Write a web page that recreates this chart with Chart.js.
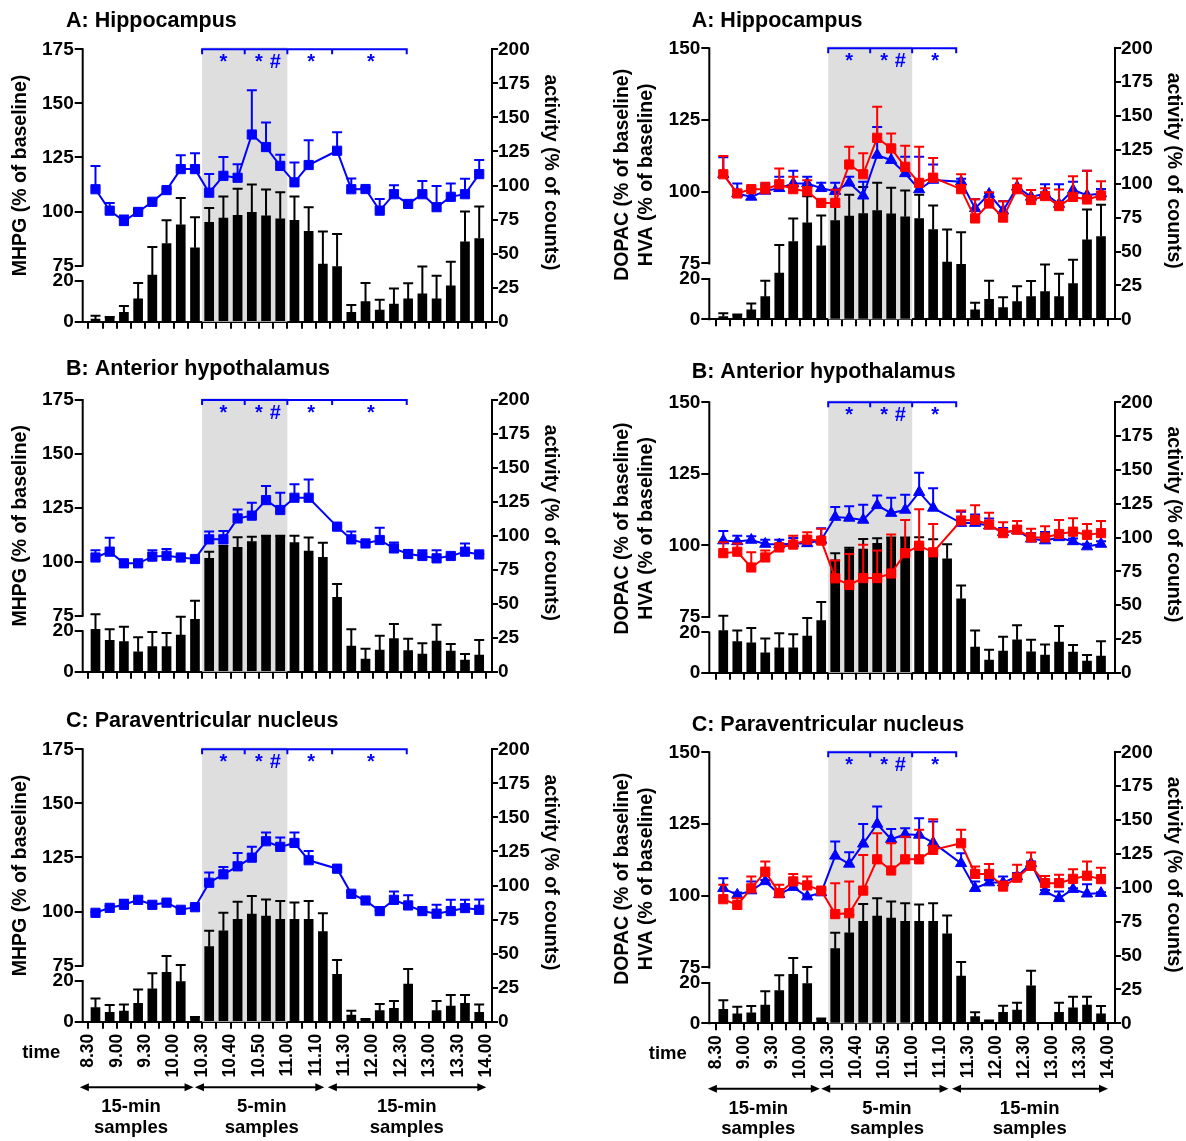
<!DOCTYPE html>
<html>
<head>
<meta charset="utf-8">
<script src="https://cdn.jsdelivr.net/npm/chart.js@4.4.0/dist/chart.umd.min.js"></script>
<style>
  html, body { margin: 0; padding: 0; background: #fff; }
  #wrap { position: relative; width: 1186px; height: 1141px; }
  #wrap canvas { position: absolute; left: 0; top: 0; }
</style>
</head>
<body>
<div id="wrap">
  <canvas id="pAL" width="1186" height="1141"></canvas>
  <canvas id="pAR" width="1186" height="1141"></canvas>
  <canvas id="pBL" width="1186" height="1141"></canvas>
  <canvas id="pBR" width="1186" height="1141"></canvas>
  <canvas id="pCL" width="1186" height="1141"></canvas>
  <canvas id="pCR" width="1186" height="1141"></canvas>
</div>
<script>
// x axis: 28 samples, label every second boundary
const timeLabels = ['8.30', '9.00', '9.30', '10.00', '10.30', '10.40', '10.50', '11.00',
  '11.10', '11.30', '12.00', '12.30', '13.00', '13.30', '14.00'];

// A: Hippocampus
const activityA = [2.0, 2.9, 6.9, 16.7, 34.2, 57.4, 71.2, 54.3, 72.9, 76.1, 78.1, 80.3, 77.8, 75.6,
  74.4, 66.3, 42.3, 40.5, 6.9, 14.7, 8.6, 13, 16.7, 20.4, 16.7, 26.3, 58.7, 61.1];
const activityAErr = [2.4, 0.6, 4.7, 11.8, 20.6, 17, 19.7, 22.3, 10.6, 15.9, 19.6, 20.4, 19.2, 19.4,
  17.6, 17.7, 24, 23.8, 5.4, 13.8, 7.6, 11.3, 11.6, 20.1, 17, 17.7, 22.3, 23.4];
const mhpgA = [110.3, 100.4, 95.6, 99.8, 104.5, 109.9, 119.6, 119.6, 108.7, 116.5, 115.6, 135.6, 129.8, 121.1,
  113.5, 121.5, null, 128.1, 110.3, 110.4, 100.4, 108, 103.5, 108, 102, 106.8, 108, 117.3];
const mhpgAErr = [10.8, 3.5, 2.5, 0.7, 1, 0.6, 6.4, 7.3, 8.6, 8.7, 6.3, 20.5, 11.4, 5.1,
  9.2, 11.5, null, 8.5, 5, 0.6, 5.4, 4.1, 1.5, 6.1, 9.8, 6.2, 7.2, 6.5];
const dopacA = [106.1, 99.4, 98.2, 100.3, 101.2, 102.9, 102.9, 101.2, 100.2, 103.1, 98.6, 112.8, 111, 106.4,
  100.8, 104.1, null, 103.5, 94.2, 99.2, 93.4, 101.7, 98.2, 99.4, 95.7, 100.6, 98.8, 99.4];
const dopacAErr = [5.9, 3.5, 2.7, 2.3, 4, 4.4, 2.3, 1.9, 2.9, 2.1, 4.9, 9.8, 4, 5.8,
  11.4, 5.4, null, 1, 3.2, 0.4, 3.3, 0.3, 2.4, 3.2, 6.9, 2.9, 8.5, 1.6];
const hvaA = [106.1, 99.4, 100.9, 100.9, 102.6, 100.9, 100.2, 96.1, 96.1, 109.5, 106.1, 118.8, 115.1, 108.7,
  103.1, 104.9, null, 100.9, 90.7, 95.9, 91, 100.9, 97.1, 98.5, 95, 98.2, 97.3, 98.7];
const hvaAErr = [6.4, 1.1, 0.6, 2.2, 5.5, 4.3, 3.8, 0.4, 4.6, 6.2, 7.3, 10.8, 5.2, 7.3,
  12.6, 6.9, null, 5.2, 6.7, 3.9, 5.7, 3.7, 3.5, 2.7, 5.8, 7.2, 10, 5];

// B: Anterior hypothalamus
const activityB = [31.2, 23.1, 22.1, 14.7, 18.4, 18.4, 27, 38.5, 83.4, 91.5, 91.5, 95.7, 99.6, 99.9,
  95, 88.8, 84.2, 54.7, 18.9, 9.3, 16, 24.3, 15.5, 13, 22.6, 15.2, 8.6, 12.3];
const activityBErr = [11, 8.1, 11, 10.6, 10.8, 10.1, 13.5, 13.8, 4.9, 1, 7.4, 3.7, 0.4, 0.1,
  5.1, 9.9, 10.8, 9.8, 12.3, 7.6, 10.5, 10.8, 8.8, 7.9, 12, 5.2, 4.4, 11];
const mhpgB = [102, 104.7, 99.3, 99.3, 102.4, 102.8, 102, 101.3, 110.4, 110.4, 120.1, 121.4, 128.6, 124,
  129.7, 129.7, null, 116.3, 110.4, 108.5, 110.1, 106.2, 103.6, 102.7, 101.6, 102.7, 104.7, 103.4];
const mhpgBErr = [3.4, 6.5, 0.2, 0.2, 3, 3.1, 0.5, 0.2, 3.6, 3.9, 4.2, 6, 6.5, 8,
  6.3, 8.5, null, 0.2, 3.6, 0.5, 5.7, 2.8, 1.8, 2.7, 3.8, 0.3, 3.8, 0.1];
const dopacB = [101.7, 101.4, 101.9, 100.5, 100.3, 100.7, 100.7, 101.9, 109.9, 109.6, 108.9, 114, 111.3, 112.4,
  118.6, 113.1, null, 107.8, 107.8, 106.9, 104.6, 105.2, 102.3, 101.7, 102.8, 101.4, 99.6, 100.5];
const dopacBErr = [3.3, 2, 1.3, 1.5, 1.7, 1.9, 1.3, 4.1, 3.5, 4.1, 5.3, 3.4, 5.4, 5.3,
  6.8, 6.9, null, 4, 3, 2.5, 1.5, 1.5, 2, 3, 2, 1, 1, 1];
const hvaB = [97.3, 97.8, 92.3, 95.8, 99.3, 100.3, 102, 101.7, 88.5, 86.2, 88.6, 88.6, 90.2, 97.3,
  99.9, 97.6, null, 108.7, 108.9, 107.3, 104.3, 105.5, 102.8, 102.8, 104, 104.8, 103.7, 104.3];
const hvaBErr = [3.8, 2.9, 5.3, 2.4, 1.4, 3.1, 2.6, 4.1, 6.2, 10.8, 11.6, 9.6, 13.6, 11.6,
  12.7, 9.9, null, 3.5, 5.1, 4.1, 3.8, 3, 3, 3.9, 4.9, 4.7, 3.8, 4.2];

// C: Paraventricular nucleus
const activityC = [10.3, 6.9, 7.8, 13.5, 24.2, 36.2, 29.4, 3.2, 55.1, 66.8, 75.2, 79.1, 77.6, 75.2,
  75.2, 75.2, 66.1, 34.8, 4.9, 1.7, 8.1, 9.8, 27.7, 0, 8.1, 11.5, 13.5, 6.9];
const activityCErr = [6.8, 5.3, 4.9, 10.2, 11.3, 12, 12.2, 0.3, 11.7, 13.2, 12.9, 13.2, 12.2, 13.4,
  12.4, 13.4, 13.5, 10.5, 3.2, 0.3, 4.9, 5.4, 11, 0, 7.1, 8.1, 6.1, 5.8];
const mhpgC = [99.4, 101.7, 103.1, 105.4, 103.1, 104.1, 100.8, 102, 113.3, 117.2, 120.9, 124.9, 132.5, 129.9,
  131.7, 123.7, null, 119.8, 108.2, 105.1, 100.2, 105.4, 102.8, 100.2, 99, 100.2, 101.6, 100.8];
const mhpgCErr = [0.3, 0.8, 2.3, 1.3, 0.5, 1, 0.5, 0.8, 4.7, 3.4, 6.2, 5, 4, 4.3,
  4.8, 4.3, null, 0.5, 0.8, 0.8, 0.3, 3.9, 4.7, 0.3, 4.1, 5.2, 3.8, 4.8];
const dopacC = [102.6, 100.3, 101.8, 105, 100.5, 103, 99.7, 101.1, 113.9, 111.1, 118.1, 125, 119.7, 121.4,
  121.2, 118.5, null, 111.3, 102.6, 104.6, 104.6, 106.7, 111.3, 101.5, 99.1, 102.3, 100.7, 100.9];
const dopacCErr = [3.5, 0.8, 3.2, 0.5, 0.3, 1.6, 0.3, 1.5, 5, 4.1, 6.9, 6.1, 3.6, 2.1,
  5.8, 7.4, null, 3.5, 2.4, 0.9, 2.1, 1.2, 0.6, 0.5, 2.4, 0.3, 3.3, 0.3];
const hvaC = [98.8, 96.8, 102.6, 108.4, 100.9, 105, 103.6, 101.8, 93.6, 93.9, 101.8, 112.7, 108.8, 112.7,
  112.7, 116, null, 118.3, 107.6, 107.6, 103.2, 106.3, 110.4, 104.4, 104.4, 105.9, 107, 105.8];
const hvaCErr = [5, 2.3, 4.1, 3.5, 2.9, 2.6, 3.1, 0.2, 10.8, 11.1, 12.4, 9.1, 9.5, 7.9,
  10.3, 10.7, null, 4.7, 2.6, 3.5, 1.8, 4.5, 4.7, 2.5, 2.9, 3.3, 4.9, 4];

const W = 1186, H = 1141;
const FONT = '"Liberation Sans", Arial, Helvetica, sans-serif';
const BLUE = '#0000ff', RED = '#ff0000';
const FRAC75 = 0.794, FRAC20 = 0.851;   // where the axis break sits (fraction of plot height from top)

const leftMarks = [{x: 9.5, t: '*'}, {x: 12, t: '*'}, {x: 13.15, t: '#'}, {x: 15.67, t: '*'}, {x: 19.87, t: '*'}];
const rightMarks = [{x: 9.5, t: '*'}, {x: 12, t: '*'}, {x: 13.15, t: '#'}, {x: 15.65, t: '*'}];

const panels = [
  {id: 'pAL', col: 'L', title: 'A: Hippocampus', x0: 82.7, x1: 492, y0: 49.3, y1: 321.7, titleY: 26.5, last: false,
    act: activityA, actErr: activityAErr, lines: [{d: mhpgA, e: mhpgAErr, c: BLUE, s: 'rect'}]},
  {id: 'pAR', col: 'R', title: 'A: Hippocampus', x0: 709.3, x1: 1115, y0: 48.3, y1: 319.3, titleY: 26.5, last: false,
    act: activityA, actErr: activityAErr, lines: [{d: dopacA, e: dopacAErr, c: BLUE, s: 'triangle'}, {d: hvaA, e: hvaAErr, c: RED, s: 'rect'}]},
  {id: 'pBL', col: 'L', title: 'B: Anterior hypothalamus', x0: 82.7, x1: 492, y0: 400, y1: 671.7, titleY: 375, last: false,
    act: activityB, actErr: activityBErr, lines: [{d: mhpgB, e: mhpgBErr, c: BLUE, s: 'rect'}]},
  {id: 'pBR', col: 'R', title: 'B: Anterior hypothalamus', x0: 709.3, x1: 1115, y0: 402.3, y1: 672.7, titleY: 378, last: false,
    act: activityB, actErr: activityBErr, lines: [{d: dopacB, e: dopacBErr, c: BLUE, s: 'triangle'}, {d: hvaB, e: hvaBErr, c: RED, s: 'rect'}]},
  {id: 'pCL', col: 'L', title: 'C: Paraventricular nucleus', x0: 82.7, x1: 492, y0: 749.3, y1: 1021.7, titleY: 726.5, last: true,
    act: activityC, actErr: activityCErr, lines: [{d: mhpgC, e: mhpgCErr, c: BLUE, s: 'rect'}]},
  {id: 'pCR', col: 'R', title: 'C: Paraventricular nucleus', x0: 709.3, x1: 1115, y0: 752.3, y1: 1023.3, titleY: 730.5, last: true,
    act: activityC, actErr: activityCErr, lines: [{d: dopacC, e: dopacCErr, c: BLUE, s: 'triangle'}, {d: hvaC, e: hvaCErr, c: RED, s: 'rect'}]}
];

const pts = arr => arr.map((v, i) => ({x: i + 0.5, y: v}));

// one-sided (upper) error bars
function drawErrors(chart, meta, ds) {
  const sc = chart.scales[meta.yAxisID];
  const ctx = chart.ctx;
  ctx.save();
  ctx.strokeStyle = ds.errColor;
  ctx.lineWidth = 2;
  meta.data.forEach((el, i) => {
    const v = ds.data[i].y, e = ds.errors[i];
    if (v == null || !e) return;
    const yt = sc.getPixelForValue(v + e);
    ctx.beginPath();
    ctx.moveTo(el.x, el.y);
    ctx.lineTo(el.x, yt);
    ctx.moveTo(el.x - 5, yt);
    ctx.lineTo(el.x + 5, yt);
    ctx.stroke();
  });
  ctx.restore();
}

const errorBars = {
  id: 'errorBars',
  beforeDatasetDraw(chart, args) {
    const ds = chart.data.datasets[args.index];
    if (ds.type === 'line') drawErrors(chart, args.meta, ds);
  },
  afterDatasetDraw(chart, args) {
    const ds = chart.data.datasets[args.index];
    if (ds.type !== 'line') drawErrors(chart, args.meta, ds);
  }
};

function vText(ctx, text, x, y, angle) {
  ctx.save();
  ctx.translate(x, y);
  ctx.rotate(angle);
  ctx.fillText(text, 0, 0);
  ctx.restore();
}

function arrow(ctx, xa, xb, y) {
  ctx.beginPath();
  ctx.moveTo(xa + 6, y);
  ctx.lineTo(xb - 6, y);
  ctx.stroke();
  ctx.beginPath();
  ctx.moveTo(xa, y); ctx.lineTo(xa + 9, y - 4); ctx.lineTo(xa + 9, y + 4); ctx.closePath();
  ctx.moveTo(xb, y); ctx.lineTo(xb - 9, y - 4); ctx.lineTo(xb - 9, y + 4); ctx.closePath();
  ctx.fill();
}

function makeDecor(p) {
  const left = p.col === 'L';
  return {
    id: 'decor',
    beforeDatasetsDraw(chart) {
      const {ctx, chartArea: a, scales: {x}} = chart;
      const xa = x.getPixelForValue(8), xb = x.getPixelForValue(14);
      ctx.save();
      ctx.fillStyle = '#dedede';
      ctx.fillRect(xa, a.top - 2, xb - xa, a.bottom - a.top + 2);
      ctx.restore();
    },
    afterDraw(chart) {
      const {ctx, chartArea: a, scales: {x, y}} = chart;
      const mid = (a.top + a.bottom) / 2;
      ctx.save();

      // broken left axis
      ctx.strokeStyle = '#000';
      ctx.lineWidth = 2;
      ctx.beginPath();
      ctx.moveTo(a.left, a.top - 1);
      ctx.lineTo(a.left, y.getPixelForValue(75) + 1);
      ctx.moveTo(a.left, y.getPixelForValue(y.ticks[1].value) - 1);
      ctx.lineTo(a.left, a.bottom + 1);
      ctx.stroke();

      // significance brackets
      const stops = left ? [8, 11, 14, 17.15, 22.4] : [8, 11, 14, 17.15];
      const bx = stops.map(v => x.getPixelForValue(v));
      ctx.strokeStyle = BLUE;
      ctx.beginPath();
      ctx.moveTo(bx[0] - 1, a.top);
      ctx.lineTo(bx[bx.length - 1] + 1, a.top);
      bx.forEach(px => { ctx.moveTo(px, a.top); ctx.lineTo(px, a.top + 5); });
      ctx.stroke();
      ctx.fillStyle = BLUE;
      ctx.font = 'bold 20px ' + FONT;
      ctx.textAlign = 'center';
      ctx.textBaseline = 'alphabetic';
      (left ? leftMarks : rightMarks).forEach(m => ctx.fillText(m.t, x.getPixelForValue(m.x), a.top + 18.5));

      // panel title
      ctx.fillStyle = '#000';
      ctx.textAlign = 'left';
      ctx.font = 'bold 21.5px ' + FONT;
      ctx.fillText(p.title, left ? 66 : 691.7, p.titleY);

      // axis titles
      ctx.font = 'bold 19.5px ' + FONT;
      ctx.textAlign = 'center';
      ctx.textBaseline = 'middle';
      if (left) {
        vText(ctx, 'MHPG (% of baseline)', a.left - 61.7, mid - 10, -Math.PI / 2);
      } else {
        vText(ctx, 'DOPAC (% of baseline)', a.left - 86.3, mid - 9, -Math.PI / 2);
        vText(ctx, 'HVA (% of baseline)', a.left - 62.3, mid - 9, -Math.PI / 2);
      }
      vText(ctx, 'activity (% of counts)', a.right + 58, mid - 13, Math.PI / 2);

      // time axis annotation below the bottom row
      if (p.last) {
        ctx.font = 'bold 18.5px ' + FONT;
        ctx.fillText('time', a.left - 41.5, a.bottom + 31);
        ctx.strokeStyle = '#000';
        ctx.lineWidth = 2;
        const ya = a.bottom + 65.5;
        const spans = [[-0.6, 7.4, '15-min', 3.0], [7.5, 16.6, '5-min', 12.2], [16.85, 28.0, '15-min', 22.4]];
        spans.forEach(s => {
          arrow(ctx, x.getPixelForValue(s[0]), x.getPixelForValue(s[1]), ya);
          const cx = x.getPixelForValue(s[3]);
          ctx.fillText(s[2], cx, a.bottom + 85.5);
          ctx.fillText('samples', cx, a.bottom + 106);
        });
      }
      ctx.restore();
    }
  };
}

function makeChart(p) {
  const left = p.col === 'L';
  const yTop = left ? 175 : 150;
  const range = (yTop - 75) / FRAC75;
  const yMin = yTop - range;
  const y20 = yTop - FRAC20 * range;
  const leftTicks = [yMin, y20];
  for (let v = 75; v <= yTop; v += 25) leftTicks.push(v);
  const xMin = left ? -0.4 : -0.5, xMax = left ? 28.4 : 28.5;
  const leftW = 40, rightW = 40, xH = p.last ? 70 : 10;

  const datasets = [{
    type: 'bar', data: pts(p.act), errors: p.actErr, errColor: '#000',
    backgroundColor: '#000', borderWidth: 0, yAxisID: 'y2', barThickness: 9, order: 3
  }];
  p.lines.forEach((l, k) => datasets.push({
    type: 'line', data: pts(l.d), errors: l.e, errColor: l.c,
    borderColor: l.c, backgroundColor: l.c, borderWidth: 2,
    pointStyle: l.s, pointRadius: 6.5, pointBorderWidth: 1, pointBorderColor: l.c, pointBackgroundColor: l.c,
    yAxisID: 'y', spanGaps: true, tension: 0, order: 2 - k
  }));

  const tickFont = {family: FONT, size: 19, weight: 'bold'};
  new Chart(document.getElementById(p.id), {
    type: 'bar',
    data: {datasets},
    options: {
      responsive: false,
      animation: false,
      devicePixelRatio: 1,
      events: [],
      layout: {padding: {left: p.x0 - leftW, right: W - p.x1 - rightW, top: p.y0, bottom: H - p.y1 - xH}},
      plugins: {legend: {display: false}, tooltip: {enabled: false}},
      scales: {
        x: {
          type: 'linear', min: xMin, max: xMax, offset: false,
          afterBuildTicks: s => { s.ticks = Array.from({length: 29}, (_, i) => ({value: i})); },
          afterFit: s => { s.height = xH; },
          grid: {offset: false, drawOnChartArea: false, tickLength: 7, color: '#000', lineWidth: 2},
          border: {color: '#000', width: 2},
          ticks: {
            autoSkip: false, minRotation: 90, maxRotation: 90, padding: 5, color: '#000',
            font: {family: FONT, size: 17.5, weight: 'bold'},
            callback: (v, i) => (p.last && i % 2 === 0) ? timeLabels[i / 2] : ''
          }
        },
        y: {
          type: 'linear', position: 'left', min: yMin, max: yTop,
          afterBuildTicks: s => { s.ticks = leftTicks.map(v => ({value: v})); },
          afterFit: s => { s.width = leftW; },
          border: {display: false},
          grid: {drawOnChartArea: false, tickLength: 8, color: '#000', lineWidth: 2},
          ticks: {
            padding: 1, color: '#000', font: tickFont,
            callback: (v, i) => i === 0 ? '0' : (i === 1 ? '20' : String(v))
          }
        },
        y2: {
          type: 'linear', position: 'right', min: 0, max: 200,
          afterBuildTicks: s => { s.ticks = [0, 25, 50, 75, 100, 125, 150, 175, 200].map(v => ({value: v})); },
          afterFit: s => { s.width = rightW; },
          border: {color: '#000', width: 2},
          grid: {drawOnChartArea: false, tickLength: 6, color: '#000', lineWidth: 2},
          ticks: {padding: 0, color: '#000', font: tickFont}
        }
      }
    },
    plugins: [errorBars, makeDecor(p)]
  });
}

panels.forEach(makeChart);
</script>
</body>
</html>
